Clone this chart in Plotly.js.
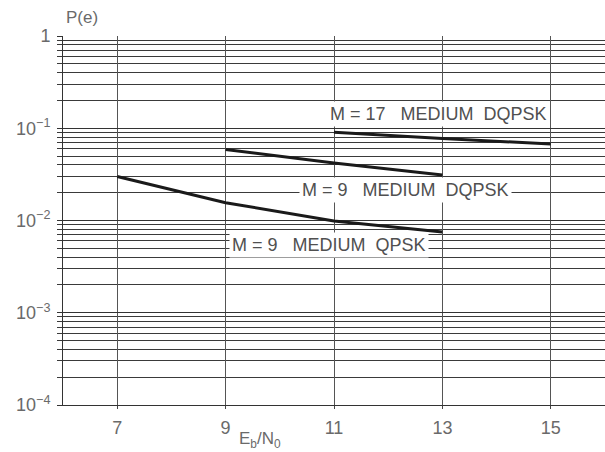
<!DOCTYPE html>
<html>
<head>
<meta charset="utf-8">
<script src="https://cdn.plot.ly/plotly-3.0.1.min.js"></script>
<style>html,body{margin:0;padding:0;background:#fff;}#chart{width:605px;height:452px;}</style>
</head>
<body>
<div id="chart"></div>
<script>
// Series data
const qpskM9_x = [7, 9, 11, 13];
const qpskM9_y = [0.030, 0.0156, 0.0099, 0.0075];
const dqpskM9_x = [9, 11, 13];
const dqpskM9_y = [0.059, 0.042, 0.0312];
const dqpskM17_x = [11, 13, 15];
const dqpskM17_y = [0.0905, 0.0772, 0.0676];

// Tick labels
const xTickVals = [7, 9, 11, 13, 15];
const xTickText = ['7', '9', '11', '13', '15'];
const yTickVals = [1e-4, 1e-3, 1e-2, 1e-1, 1];
const yTickText = ['10<sup>−4</sup>', '10<sup>−3</sup>', '10<sup>−2</sup>', '10<sup>−1</sup>', '1'];

// Curve labels
const labelText = ['M = 17&nbsp;&nbsp; MEDIUM&nbsp; DQPSK', 'M = 9&nbsp;&nbsp; MEDIUM&nbsp; DQPSK', 'M = 9&nbsp;&nbsp; MEDIUM&nbsp; QPSK'];
const labelX = [12.92, 12.32, 10.9];
const labelY = [0.1428, 0.0215, 0.00545];

// minor grid positions (2..9 in each decade)
const minorVals = [];
for (let e = -4; e < 0; e++) for (let m = 2; m <= 9; m++) minorVals.push(m * Math.pow(10, e));

const lineStyle = {color: '#1a1a1a', width: 3};
const traces = [
  {x: qpskM9_x, y: qpskM9_y, mode: 'lines', line: lineStyle, hoverinfo: 'skip'},
  {x: dqpskM9_x, y: dqpskM9_y, mode: 'lines', line: lineStyle, hoverinfo: 'skip'},
  {x: dqpskM17_x, y: dqpskM17_y, mode: 'lines', line: lineStyle, hoverinfo: 'skip'}
];

const FONT = 'Liberation Sans, Arial, sans-serif';
const tickFont = {family: FONT, size: 18, color: '#6a6a6a'};
const annotations = labelText.map((t, i) => ({
  x: labelX[i], y: Math.log10(labelY[i]), xref: 'x', yref: 'y',
  text: t, showarrow: false, bgcolor: '#ffffff', borderpad: 2,
  font: {family: FONT, size: 18, color: '#505050'}
}));

const W = 605, H = 452, L = 63, R = 0, T = 36, B = 47;
const pw = W - L - R, ph = H - T - B;
annotations.push({
  x: (64 - L) / pw, y: 1 + (T - 18) / ph, xref: 'paper', yref: 'paper', text: 'P(e)', showarrow: false,
  xanchor: 'left', yanchor: 'middle',
  font: {family: FONT, size: 17, color: '#6a6a6a'}
});
annotations.push({
  text: 'E<sub>b</sub>/N<sub>0</sub>', showarrow: false, xref: 'paper', yref: 'paper',
  xanchor: 'center', yanchor: 'middle', x: (260 - L) / pw, y: -(440 - (H - B)) / ph,
  font: {family: FONT, size: 17, color: '#6a6a6a'}
});

const layout = {
  width: W, height: H,
  margin: {l: L, r: R, t: T, b: B},
  paper_bgcolor: '#ffffff', plot_bgcolor: '#ffffff',
  showlegend: false,
  xaxis: {
    range: [6, 16], tickvals: xTickVals, ticktext: xTickText,
    showgrid: true, gridcolor: '#555555', gridwidth: 1,
    showline: true, linecolor: '#333333', linewidth: 1,
    ticks: 'outside', ticklen: 3, tickcolor: '#444444',
    tickfont: tickFont, zeroline: false, fixedrange: true, ticklabelstandoff: 3
  },
  yaxis: {
    type: 'log', range: [-4, 0], tickvals: yTickVals, ticktext: yTickText,
    showgrid: true, gridcolor: '#333333', gridwidth: 1,
    showline: true, linecolor: '#333333', linewidth: 1,
    ticks: 'outside', ticklen: 5, tickcolor: '#333333',
    tickfont: tickFont, zeroline: false, fixedrange: true, ticklabelstandoff: 3,
    minor: {tickvals: minorVals, showgrid: true, gridcolor: '#3a3a3a', gridwidth: 1, ticks: 'outside', ticklen: 5, tickcolor: '#3a3a3a'}
  },
  annotations: annotations
};

Plotly.newPlot('chart', traces, layout, {displayModeBar: false, staticPlot: true});
</script>
</body>
</html>
